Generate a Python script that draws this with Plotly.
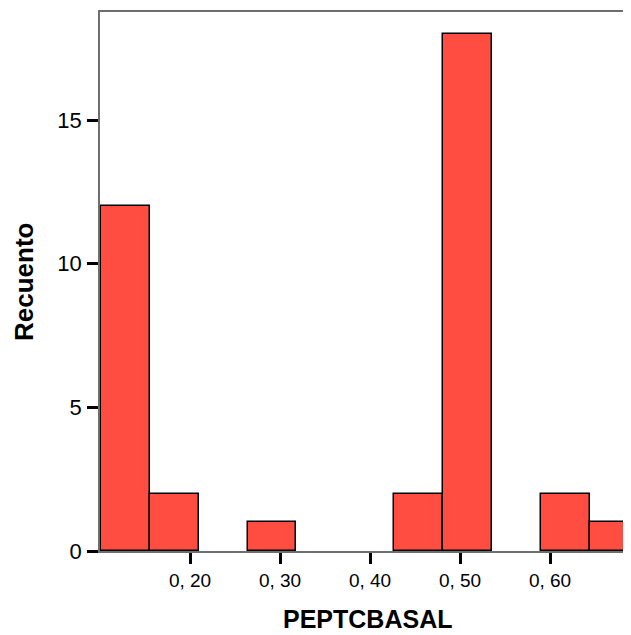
import plotly.graph_objects as go

# Histogram of PEPTCBASAL (SPSS style)
bin_start = 0.1008
bin_width = 0.05437
counts = [12, 2, 0, 1, 0, 0, 2, 18, 0, 2, 1]
x_tick_vals = [0.20, 0.30, 0.40, 0.50, 0.60]
x_tick_text = ["0, 20", "0, 30", "0, 40", "0, 50", "0, 60"]
y_tick_vals = [0, 5, 10, 15]

centers = [bin_start + bin_width * (i + 0.5) for i in range(len(counts))]
outline_w = [1.5 if c > 0 else 0 for c in counts]

fig = go.Figure()
fig.add_trace(go.Bar(
    x=centers, y=counts, width=[bin_width] * len(counts),
    marker=dict(color="#FF4D42", line=dict(color="black", width=outline_w)),
    hoverinfo="x+y",
))

OFF = 8  # page body margin
W, H = 631 - OFF, 635 - OFF
L, R, T = 100 - OFF, 0, 12 - OFF
B = H - (551 - OFF)
pw, ph = W - L - R, H - T - B

fig.update_layout(
    width=W, height=H,
    margin=dict(l=L, r=R, t=T, b=B),
    plot_bgcolor="white", paper_bgcolor="white",
    showlegend=False,
    bargap=0,
    font=dict(family="Liberation Sans, Arial, sans-serif", color="black"),
)
fig.update_xaxes(
    range=[0.1, 0.69],
    tickvals=x_tick_vals, ticktext=x_tick_text,
    ticks="outside", ticklen=11, tickwidth=3, tickcolor="black",
    tickfont=dict(size=19, color="black"),
    showline=True, linecolor="#6E6E6E", linewidth=1.5, mirror=True,
    showgrid=False, zeroline=False,
)
fig.update_yaxes(
    range=[0, 18.76],
    tickvals=y_tick_vals,
    ticks="outside", ticklen=11, tickwidth=3, tickcolor="black",
    tickfont=dict(size=22, color="black"),
    ticklabelstandoff=1,
    showline=True, linecolor="#6E6E6E", linewidth=1.5,
    showgrid=False, zeroline=False,
)

def px_x(px):
    return (px - OFF - L) / pw

def px_y(py):
    return (H - B - (py - OFF)) / ph

fig.add_annotation(
    text="<b>Recuento</b>", textangle=-90, showarrow=False,
    xref="paper", yref="paper",
    x=px_x(24), y=px_y(282),
    xanchor="center", yanchor="middle",
    font=dict(size=26, color="black", family="Liberation Sans, Arial, sans-serif"),
)
fig.add_annotation(
    text="<b>PEPTCBASAL</b>", showarrow=False,
    xref="paper", yref="paper",
    x=px_x(367), y=px_y(635),
    xanchor="center", yanchor="bottom",
    font=dict(size=25, color="black", family="Liberation Sans, Arial, sans-serif"),
)

fig.write_html("out.html")
